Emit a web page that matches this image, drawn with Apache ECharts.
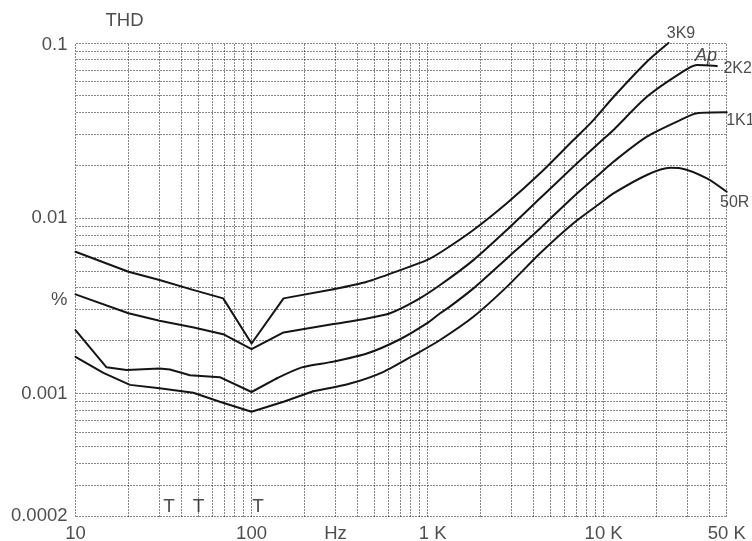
<!DOCTYPE html>
<html><head><meta charset="utf-8">
<script src="https://cdn.jsdelivr.net/npm/echarts@6/dist/echarts.min.js"></script>
<style>html,body{margin:0;padding:0;background:#fff}#c{width:752px;height:541px}</style>
</head><body><div id="c"></div>
<script>
// ---- data (frequency in Hz, THD in %) ----
const freq3K9 = [10, 20, 30, 47, 69, 100, 152, 292, 452, 698, 989, 1200, 1820, 2818, 4355, 6736, 8750, 11370, 17590, 23350];
const thd3K9  = [0.00644, 0.00495, 0.00444, 0.00389, 0.00349, 0.00193, 0.00349, 0.00393, 0.00434, 0.00506, 0.00577, 0.00644, 0.00857, 0.01217, 0.01804, 0.02793, 0.0363, 0.0492, 0.0782, 0.1];

const freq2K2 = [10, 20, 30, 47, 69, 100, 152, 292, 452, 612, 868, 1178, 1820, 2818, 4355, 6736, 9550, 11370, 17590, 27210, 33860, 43950];
const thd2K2  = [0.00368, 0.00287, 0.00260, 0.00238, 0.00218, 0.00179, 0.00223, 0.00249, 0.00268, 0.00287, 0.00341, 0.00416, 0.00577, 0.00857, 0.0130, 0.0197, 0.0272, 0.0319, 0.0493, 0.0671, 0.0748, 0.0739];

const freq1K1 = [10, 15, 19.5, 30, 34.4, 44.7, 66, 100, 139, 193, 292, 452, 698, 989, 1178, 1343, 1820, 2818, 4355, 6736, 9550, 11370, 17590, 27210, 33860, 50000];
const thd1K1  = [0.00230, 0.00141, 0.00136, 0.00139, 0.00137, 0.00127, 0.00124, 0.00102, 0.00122, 0.00141, 0.00152, 0.00169, 0.00204, 0.00251, 0.00287, 0.00314, 0.00398, 0.00590, 0.00875, 0.01327, 0.0180, 0.0210, 0.0292, 0.0363, 0.0397, 0.0402];

const freq50R = [10, 14.4, 20.4, 30, 46.7, 66, 100, 152, 224, 363, 562, 868, 1178, 1820, 2818, 4355, 6736, 9550, 11370, 17590, 23870, 27210, 38580, 50000];
const thd50R  = [0.00162, 0.00131, 0.00112, 0.00107, 0.00101, 0.000897, 0.000787, 0.000897, 0.00103, 0.00114, 0.00133, 0.00169, 0.00202, 0.00274, 0.00406, 0.00631, 0.00936, 0.01217, 0.01387, 0.01766, 0.0194, 0.0193, 0.0169, 0.01416];

// index where each curve stops being a sharp polyline and becomes a smooth sweep
const smoothFrom = { '3K9': 7, '2K2': 7, '1K1': 8, '50R': 8 };

// ---- axes, ticks, grid lines ----
const xMin = 10, xMax = 50000, yMin = 0.0002, yMax = 0.1;
const xGridValues = [10,20,30,40,50,60,70,80,90,100,200,300,400,500,600,700,800,900,1000,2000,3000,4000,5000,6000,7000,8000,9000,10000,20000,30000,40000,50000];
const yGridValues = [0.0002,0.0003,0.0004,0.0005,0.0006,0.0007,0.0008,0.0009,0.001,0.002,0.003,0.004,0.005,0.006,0.007,0.008,0.009,0.01,0.02,0.03,0.04,0.05,0.06,0.07,0.08,0.09,0.1];
const xTickValues = [10, 100, 300, 1000, 10000, 50000];
const xTickLabels = ['10', '100', 'Hz', '1 K', '10 K', '50 K'];
const yTickValues = [0.1, 0.01, 0.0034, 0.001, 0.0002];
const yTickLabels = ['0.1', '0.01', '%', '0.001', '0.0002'];

// ---- annotations: text and anchor (Hz, %) ----
const noteTexts = ['THD', '3K9', 'Ap', '2K2', '1K1', '50R', 'T', 'T', 'T'];
const noteFreqs = [19, 27500, 38200, 57700, 59800, 55500, 34, 50, 109];
const noteTHD   = [0.134, 0.1125, 0.0843, 0.0713, 0.0359, 0.0123, 0.000226, 0.000226, 0.000226];

const FONT = '"Liberation Sans", Arial, Helvetica, sans-serif';
const TXT = '#222';

function pairs(f, v) { return f.map((x, i) => [x, v[i]]); }

function curve(name, f, v) {
  const all = pairs(f, v);
  const k = smoothFrom[name];
  const base = {
    type: 'line', showSymbol: false, symbol: 'none', clip: false, silent: true, z: 5,
    lineStyle: { color: '#151515', width: 2, cap: 'round', join: 'round' }
  };
  return [
    Object.assign({ name: name + '-low', data: all.slice(0, k + 1), smooth: false }, base),
    Object.assign({ name: name + '-high', data: all.slice(k), smooth: 0.25 }, base)
  ];
}

const dotStyle = { stroke: '#111', lineWidth: 1, lineDash: [1, 2] };

const vGridSeries = {
  type: 'custom', silent: true, clip: false, z: 1,
  data: xGridValues.map(x => [x, yMin]),
  renderItem: (params, api) => {
    const v = api.value(0);
    const a = api.coord([v, yMin]), b = api.coord([v, yMax]);
    const x = Math.round(a[0] - 0.5) + 0.5;
    return { type: 'line', silent: true,
      shape: { x1: x, y1: Math.round(a[1]) + 0.5, x2: x, y2: Math.round(b[1]) + 0.5 },
      style: dotStyle };
  }
};

const hGridSeries = {
  type: 'custom', silent: true, clip: false, z: 1,
  data: yGridValues.map(y => [xMin, y]),
  renderItem: (params, api) => {
    const v = api.value(1);
    const a = api.coord([xMin, v]), b = api.coord([xMax, v]);
    const y = Math.round(a[1] - 0.5) + 0.5;
    return { type: 'line', silent: true,
      shape: { x1: Math.round(a[0]) + 0.5, y1: y, x2: Math.round(b[0]) + 0.5, y2: y },
      style: dotStyle };
  }
};

const xLabelSeries = {
  type: 'scatter', silent: true, clip: false, symbolSize: 0, z: 6,
  data: xTickValues.map((x, i) => ({
    name: xTickLabels[i], value: [x, yMin],
    label: { offset: xTickLabels[i] === '1 K' ? [5, 0] : [0, 0] }
  })),
  label: { show: true, position: 'bottom', distance: 8, formatter: p => p.name,
           fontFamily: FONT, fontSize: 18.5, color: TXT }
};

const yLabelSeries = {
  type: 'scatter', silent: true, clip: false, symbolSize: 0, z: 6,
  data: yTickValues.map((y, i) => ({
    name: yTickLabels[i], value: [xMin, y],
    label: { offset: yTickLabels[i] === '0.1' ? [0, 2] : [0, 0] }
  })),
  label: { show: true, position: 'left', distance: 8, formatter: p => p.name,
           fontFamily: FONT, fontSize: 18.5, color: TXT }
};

const noteSeries = {
  type: 'scatter', silent: true, clip: false, symbolSize: 0, z: 6,
  data: noteTexts.map((t, i) => {
    const isT = t === 'T', isAp = t === 'Ap', isTHD = t === 'THD';
    return {
      name: t, value: [noteFreqs[i], noteTHD[i]],
      label: {
        fontSize: isT ? 19 : (isTHD ? 18.5 : (isAp ? 18 : 16)),
        fontStyle: isAp ? 'italic' : 'normal'
      }
    };
  }),
  label: { show: true, position: 'inside', formatter: p => p.name,
           fontFamily: FONT, color: TXT }
};

const chart = echarts.init(document.getElementById('c'), null, { renderer: 'canvas' });
chart.setOption({
  animation: false,
  backgroundColor: '#fff',
  grid: { left: 75.5, right: 25.3, top: 43, bottom: 25, containLabel: false },
  xAxis: {
    type: 'log', logBase: 10, min: xMin, max: xMax,
    axisLine: { show: false }, axisTick: { show: false }, axisLabel: { show: false },
    splitLine: { show: false }, minorSplitLine: { show: false }
  },
  yAxis: {
    type: 'log', logBase: 10, min: yMin, max: yMax,
    axisLine: { show: false }, axisTick: { show: false }, axisLabel: { show: false },
    splitLine: { show: false }, minorSplitLine: { show: false }
  },
  tooltip: { show: false },
  series: [vGridSeries, hGridSeries]
    .concat(curve('3K9', freq3K9, thd3K9))
    .concat(curve('2K2', freq2K2, thd2K2))
    .concat(curve('1K1', freq1K1, thd1K1))
    .concat(curve('50R', freq50R, thd50R))
    .concat([xLabelSeries, yLabelSeries, noteSeries])
});
</script>
</body></html>
